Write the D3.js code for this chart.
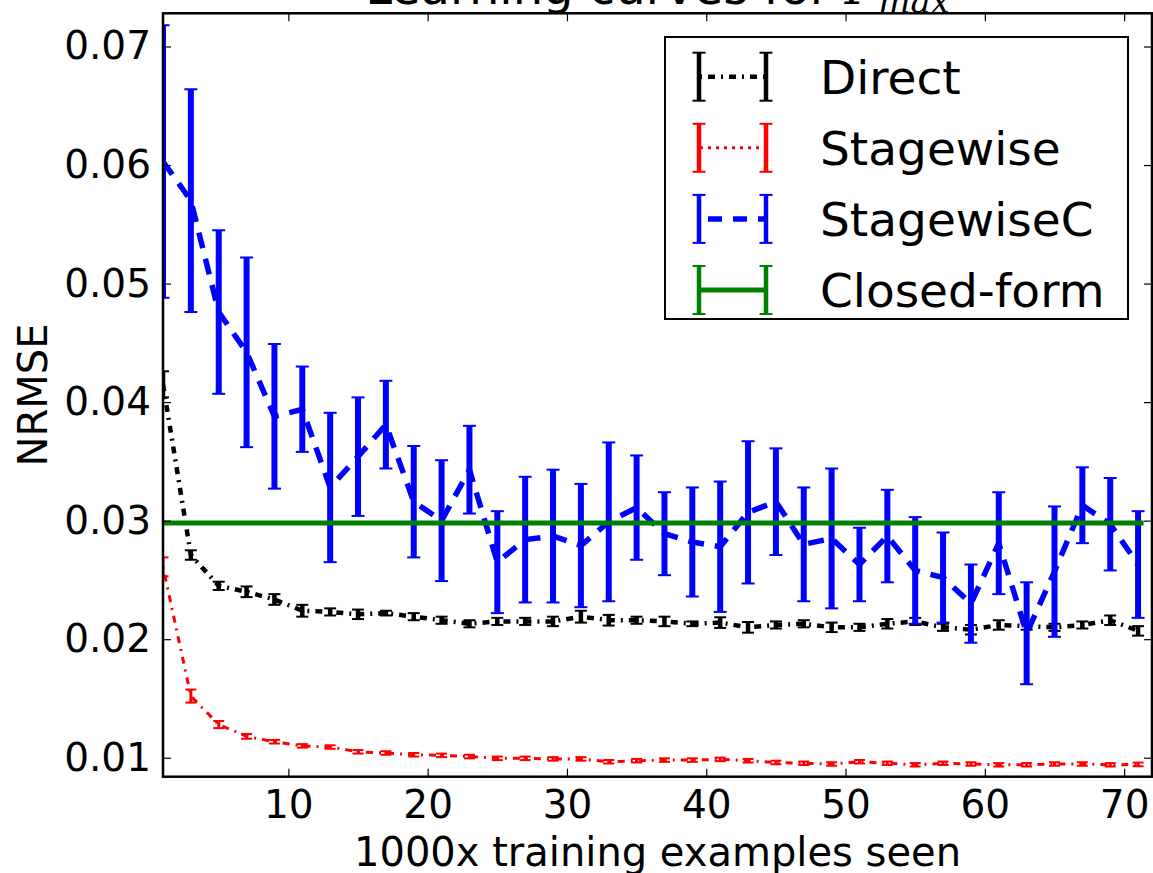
<!DOCTYPE html>
<html>
<head>
<meta charset="utf-8">
<script src="https://cdn.jsdelivr.net/npm/d3@7"></script>
<style>
  html, body { margin: 0; padding: 0; background: #fff; }
  svg { display: block; }
  text { font-family: "DejaVu Sans", sans-serif; fill: #000; }
</style>
</head>
<body>
<svg id="chart" width="1153" height="873"></svg>
<script>
// ---------------- data ----------------
const xValues = [1,3,5,7,9,11,13,15,17,19,21,23,25,27,29,31,33,35,37,39,41,43,45,47,49,51,53,55,57,59,61,63,65,67,69,71];

const directMean = [0.0415,0.0271,0.0245,0.0240,0.02335,0.0224,0.0223,0.0221,0.0222,0.0219,0.0216,0.0213,0.0215,0.0215,0.0215,0.0219,0.0216,0.0216,0.0215,0.0213,0.0214,0.0210,0.0212,0.0213,0.0210,0.0210,0.0213,0.0215,0.0210,0.0208,0.0212,0.0211,0.0210,0.0212,0.0216,0.0207];
const directErr  = [0.0011,0.0004,0.00035,0.00045,0.00045,0.0005,0.0003,0.0004,0.0002,0.0003,0.0003,0.0003,0.0003,0.0003,0.0004,0.0005,0.00045,0.0003,0.0004,0.0002,0.00045,0.00045,0.0003,0.0003,0.0004,0.0003,0.0004,0.0003,0.0003,0.0004,0.0004,0.0003,0.0003,0.0003,0.0004,0.0004];

const stagewiseMean = [0.0261,0.0152,0.0128,0.0118,0.01135,0.0110,0.0109,0.0105,0.0104,0.01025,0.0102,0.0101,0.00995,0.00995,0.0099,0.0099,0.00966,0.00975,0.0098,0.0098,0.00986,0.00975,0.0096,0.00953,0.00947,0.00966,0.00953,0.0094,0.00953,0.00947,0.0094,0.0094,0.00947,0.00947,0.0094,0.00944];
const stagewiseErr  = [0.0008,0.00055,0.0003,0.0002,0.00015,0.00015,0.00015,0.00015,0.00015,0.00015,0.00015,0.00015,0.00015,0.00015,0.00015,0.00015,0.00015,0.00015,0.00015,0.00015,0.00015,0.00015,0.00015,0.00015,0.00015,0.00015,0.00015,0.00015,0.00015,0.00015,0.00015,0.00015,0.00015,0.00015,0.00015,0.00015];

const stagewiseCMean = [0.0603,0.0570,0.0476,0.0442,0.0388,0.0394,0.0328,0.0354,0.0381,0.0316,0.0300,0.0343,0.0265,0.0284,0.0287,0.0279,0.0299,0.0311,0.0289,0.0282,0.0278,0.0307,0.0316,0.0280,0.0285,0.0263,0.0287,0.0258,0.0252,0.0230,0.0281,0.0205,0.0257,0.0313,0.0297,0.0263];
const stagewiseCErr  = [0.0115,0.0094,0.0069,0.0080,0.0061,0.0036,0.0063,0.0050,0.0037,0.0047,0.0051,0.0037,0.0043,0.0053,0.0056,0.0052,0.0067,0.0044,0.0035,0.0046,0.0055,0.0060,0.0045,0.0048,0.0059,0.0031,0.0039,0.0045,0.0038,0.0033,0.0043,0.0043,0.0055,0.0032,0.0039,0.0045];

const closedFormValue = 0.0298;
const closedFormX = [1, 71.4];

const xTicks = [10,20,30,40,50,60,70];
const yTicks = [0.01,0.02,0.03,0.04,0.05,0.06,0.07];
const legendLabels = ["Direct","Stagewise","StagewiseC","Closed-form"];

// ---------------- layout ----------------
const L = 163, R = 1152, T = 13.3, B = 776.7;
const svg = d3.select("#chart");
const x = d3.scaleLinear().domain([1, 72]).range([L, R]);
const y = d3.scaleLinear().domain([0.0084, 0.0728]).range([B, T]);

svg.append("defs").append("clipPath").attr("id","plotclip")
  .append("rect").attr("x",L).attr("y",T).attr("width",R-L).attr("height",B-T);

const plot = svg.append("g").attr("clip-path","url(#plotclip)");

const series = [
  {name:"Direct", color:"#000000", mean:directMean, err:directErr, lw:4.5, elw:4.5, dash:"7,6,2,6", cap:6},
  {name:"Stagewise", color:"#ff0000", mean:stagewiseMean, err:stagewiseErr, lw:3, elw:3, dash:"2,6,7,6", cap:5.5},
  {name:"StagewiseC", color:"#0000ff", mean:stagewiseCMean, err:stagewiseCErr, lw:5.5, elw:6, dash:"16,11", cap:6.5}
];

const line = d3.line().x(d => x(d[0])).y(d => y(d[1]));

series.forEach(s => {
  const pts = xValues.map((xv,i) => [xv, s.mean[i], s.err[i]]);
  const g = plot.append("g");
  // error bars
  pts.forEach(p => {
    g.append("line").attr("x1",x(p[0])).attr("x2",x(p[0]))
      .attr("y1",y(p[1]-p[2])).attr("y2",y(p[1]+p[2]))
      .attr("stroke",s.color).attr("stroke-width",s.elw);
    [p[1]-p[2], p[1]+p[2]].forEach(v => {
      g.append("line").attr("x1",x(p[0])-s.cap).attr("x2",x(p[0])+s.cap)
        .attr("y1",y(v)).attr("y2",y(v))
        .attr("stroke",s.color).attr("stroke-width",2);
    });
  });
  g.append("path").datum(pts).attr("d",line).attr("fill","none")
    .attr("stroke",s.color).attr("stroke-width",s.lw)
    .attr("stroke-dasharray",s.dash);
});

// closed-form line
plot.append("line").attr("x1",x(closedFormX[0])).attr("x2",x(closedFormX[1]))
  .attr("y1",y(closedFormValue)).attr("y2",y(closedFormValue))
  .attr("stroke","#008000").attr("stroke-width",5);

// ---------------- axes ----------------
const tickLen = 8;
const axB = svg.append("g").attr("transform",`translate(0,${B})`)
  .call(d3.axisBottom(x).tickValues(xTicks).tickSizeInner(-tickLen).tickSizeOuter(0).tickPadding(14).tickFormat(d3.format("d")));
const axT = svg.append("g").attr("transform",`translate(0,${T})`)
  .call(d3.axisTop(x).tickValues(xTicks).tickSizeInner(-tickLen).tickSizeOuter(0).tickFormat(""));
const axL = svg.append("g").attr("transform",`translate(${L},0)`)
  .call(d3.axisLeft(y).tickValues(yTicks).tickSizeInner(-tickLen).tickSizeOuter(0).tickPadding(12).tickFormat(d3.format(".2f")));
const axR = svg.append("g").attr("transform",`translate(${R},0)`)
  .call(d3.axisRight(y).tickValues(yTicks).tickSizeInner(-tickLen).tickSizeOuter(0).tickFormat(""));

[axB,axT,axL,axR].forEach(a => {
  a.select(".domain").remove();
  a.selectAll(".tick line").attr("stroke","#000").attr("stroke-width",1.2);
  a.selectAll(".tick text").attr("font-family","DejaVu Sans").attr("font-size",39).attr("fill","#000");
});
axB.selectAll(".tick text").attr("dy","0.71em");

// frame
svg.append("rect").attr("x",L).attr("y",T).attr("width",R-L).attr("height",B-T)
  .attr("fill","none").attr("stroke","#000").attr("stroke-width",2.5);

// axis labels
svg.append("text").attr("x",(L+R)/2).attr("y",866).attr("text-anchor","middle")
  .attr("font-size",40).text("1000x training examples seen");
svg.append("text").attr("transform",`translate(47,${(T+B)/2}) rotate(-90)`)
  .attr("text-anchor","middle").attr("font-size",40).text("NRMSE");

// title (mostly cut off at the top)
const title = svg.append("text").attr("x",(L+R)/2).attr("y",4).attr("text-anchor","middle").attr("font-size",48);
title.append("tspan").text("Learning curves for ");
title.append("tspan").attr("font-style","italic").attr("font-family","DejaVu Serif").text("Γ");
title.append("tspan").attr("font-style","italic").attr("font-family","DejaVu Serif").attr("font-size",34).attr("dy",9).text("max");

// ---------------- legend ----------------
const lg = svg.append("g");
lg.append("rect").attr("x",665).attr("y",37).attr("width",463).attr("height",282)
  .attr("fill","#fff").attr("stroke","#000").attr("stroke-width",2);
const legendItems = [
  {label:legendLabels[0], color:"#000000", lw:4.5, dash:"7,6,2,6"},
  {label:legendLabels[1], color:"#ff0000", lw:3, dash:"3,5"},
  {label:legendLabels[2], color:"#0000ff", lw:5.5, dash:"14,11"},
  {label:legendLabels[3], color:"#008000", lw:5, dash:null}
];
legendItems.forEach((it,i) => {
  const cy = 76.7 + i*71.1;
  const x0 = 699, x1 = 766;
  const ln = lg.append("line").attr("x1",x0).attr("x2",x1).attr("y1",cy).attr("y2",cy)
    .attr("stroke",it.color).attr("stroke-width",it.lw);
  if (it.dash) ln.attr("stroke-dasharray",it.dash).attr("stroke-dashoffset",-9);
  [x0,x1].forEach(xx => {
    lg.append("line").attr("x1",xx).attr("x2",xx).attr("y1",cy-24).attr("y2",cy+24)
      .attr("stroke",it.color).attr("stroke-width",4.5);
    [cy-24,cy+24].forEach(yy => {
      lg.append("line").attr("x1",xx-6.5).attr("x2",xx+6.5).attr("y1",yy).attr("y2",yy)
        .attr("stroke",it.color).attr("stroke-width",2);
    });
  });
  lg.append("text").attr("x",820).attr("y",cy).attr("dy","0.36em").attr("font-size",47).text(it.label);
});
</script>
</body>
</html>
